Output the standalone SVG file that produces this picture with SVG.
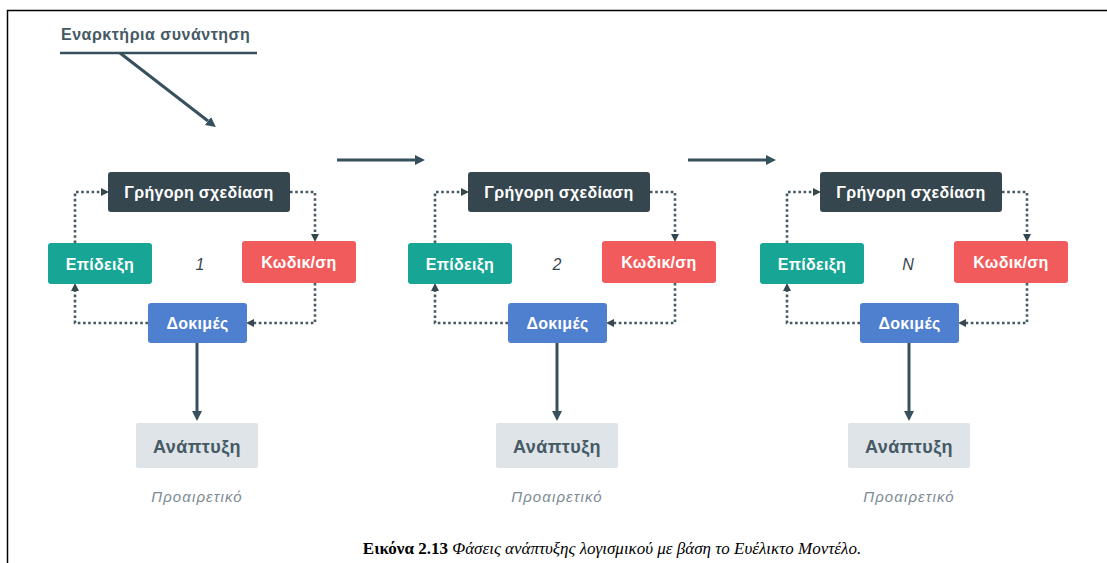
<svg xmlns="http://www.w3.org/2000/svg" width="1107" height="563" viewBox="0 0 1107 563">
<style>
.lbl{font-family:"Liberation Sans","DejaVu Sans",sans-serif;font-weight:bold;font-size:16px;fill:#fff;text-anchor:middle;letter-spacing:0.3px}
.dep{font-family:"Liberation Sans","DejaVu Sans",sans-serif;font-weight:bold;font-size:18px;fill:#455a64;text-anchor:middle;letter-spacing:0.4px}
.opt{font-family:"Liberation Sans","DejaVu Sans",sans-serif;font-style:italic;font-size:15px;fill:#7d8b94;text-anchor:middle;letter-spacing:1.1px}
.num{font-family:"Liberation Sans","DejaVu Sans",sans-serif;font-style:italic;font-size:16px;fill:#37474f;text-anchor:middle}
.dot{fill:none;stroke:#455a64;stroke-width:2.6;stroke-dasharray:2.6 2.6}
.sol{fill:none;stroke:#37505e;stroke-width:3}
.design{fill:#36464f}
.demo{fill:#17a595}
.code{fill:#f25b5b}
.test{fill:#4f80cf}
.deploy{fill:#dfe4e8}
</style>
<defs>
<marker id="ah" viewBox="0 0 10 10" refX="0" refY="5" markerWidth="8" markerHeight="12" markerUnits="userSpaceOnUse" orient="auto"><path d="M0,0 L10,5 L0,10 z" fill="#37474f"/></marker>
<marker id="ahb" viewBox="0 0 10 10" refX="0" refY="5" markerWidth="10" markerHeight="16" markerUnits="userSpaceOnUse" orient="auto"><path d="M0,0 L10,5 L0,10 z" fill="#37505e"/></marker>
</defs>
<rect width="1107" height="563" fill="#fff"/>
<path d="M7.5,563 V10.5 H1107" fill="none" stroke="#000" stroke-width="1.5"/>

<g id="start">
<text x="61" y="40" font-family="'Liberation Sans','DejaVu Sans',sans-serif" font-weight="bold" font-size="16" fill="#455a64" letter-spacing="0.5">Εναρκτήρια συνάντηση</text>
<line x1="60" y1="53" x2="257" y2="53" stroke="#37505e" stroke-width="2.5"/>
</g>

<g id="connectors">
<path class="sol" d="M120,53 L208,121" marker-end="url(#ahb)"/>
<path class="sol" d="M337,160 H415" marker-end="url(#ahb)"/>
<path class="sol" d="M688,160 H766" marker-end="url(#ahb)"/>
<g id="conn1">
<path class="dot" d="M290,192 H315 V234" marker-end="url(#ah)"/>
<path class="dot" d="M315,283 V323 H254" marker-end="url(#ah)"/>
<path class="dot" d="M148,323 H75 V291" marker-end="url(#ah)"/>
<path class="dot" d="M75,243 V192 H101" marker-end="url(#ah)"/>
<path class="sol" d="M197,343 V411" marker-end="url(#ahb)"/>
</g>
<g id="conn2" transform="translate(360,0)">
<path class="dot" d="M290,192 H315 V234" marker-end="url(#ah)"/>
<path class="dot" d="M315,283 V323 H254" marker-end="url(#ah)"/>
<path class="dot" d="M148,323 H75 V291" marker-end="url(#ah)"/>
<path class="dot" d="M75,243 V192 H101" marker-end="url(#ah)"/>
<path class="sol" d="M197,343 V411" marker-end="url(#ahb)"/>
</g>
<g id="conn3" transform="translate(712,0)">
<path class="dot" d="M290,192 H315 V234" marker-end="url(#ah)"/>
<path class="dot" d="M315,283 V323 H254" marker-end="url(#ah)"/>
<path class="dot" d="M148,323 H75 V291" marker-end="url(#ah)"/>
<path class="dot" d="M75,243 V192 H101" marker-end="url(#ah)"/>
<path class="sol" d="M197,343 V411" marker-end="url(#ahb)"/>
</g>
</g>

<g id="cycle1">
<g id="design1"><rect class="design" x="108" y="172" width="182" height="40" rx="3"/><text class="lbl" x="199" y="198">Γρήγορη σχεδίαση</text></g>
<g id="demo1"><rect class="demo" x="48" y="243" width="104" height="41" rx="3"/><text class="lbl" x="100" y="269.5">Επίδειξη</text></g>
<g id="code1"><rect class="code" x="242" y="241" width="114" height="42" rx="3"/><text class="lbl" x="299" y="268">Κωδικ/ση</text></g>
<g id="test1"><rect class="test" x="148" y="303" width="99" height="40" rx="3"/><text class="lbl" x="197.5" y="329">Δοκιμές</text></g>
<g id="deploy1"><rect class="deploy" x="136" y="423" width="122" height="45" rx="2"/><text class="dep" x="197" y="452.5">Ανάπτυξη</text></g>
<text id="opt1" class="opt" x="197" y="502">Προαιρετικό</text>
<text id="num1" class="num" x="200" y="270">1</text>
</g>

<g id="cycle2" transform="translate(360,0)">
<g id="design2"><rect class="design" x="108" y="172" width="182" height="40" rx="3"/><text class="lbl" x="199" y="198">Γρήγορη σχεδίαση</text></g>
<g id="demo2"><rect class="demo" x="48" y="243" width="104" height="41" rx="3"/><text class="lbl" x="100" y="269.5">Επίδειξη</text></g>
<g id="code2"><rect class="code" x="242" y="241" width="114" height="42" rx="3"/><text class="lbl" x="299" y="268">Κωδικ/ση</text></g>
<g id="test2"><rect class="test" x="148" y="303" width="99" height="40" rx="3"/><text class="lbl" x="197.5" y="329">Δοκιμές</text></g>
<g id="deploy2"><rect class="deploy" x="136" y="423" width="122" height="45" rx="2"/><text class="dep" x="197" y="452.5">Ανάπτυξη</text></g>
<text id="opt2" class="opt" x="197" y="502">Προαιρετικό</text>
<text id="num2" class="num" x="197" y="270">2</text>
</g>

<g id="cycle3" transform="translate(712,0)">
<g id="design3"><rect class="design" x="108" y="172" width="182" height="40" rx="3"/><text class="lbl" x="199" y="198">Γρήγορη σχεδίαση</text></g>
<g id="demo3"><rect class="demo" x="48" y="243" width="104" height="41" rx="3"/><text class="lbl" x="100" y="269.5">Επίδειξη</text></g>
<g id="code3"><rect class="code" x="242" y="241" width="114" height="42" rx="3"/><text class="lbl" x="299" y="268">Κωδικ/ση</text></g>
<g id="test3"><rect class="test" x="148" y="303" width="99" height="40" rx="3"/><text class="lbl" x="197.5" y="329">Δοκιμές</text></g>
<g id="deploy3"><rect class="deploy" x="136" y="423" width="122" height="45" rx="2"/><text class="dep" x="197" y="452.5">Ανάπτυξη</text></g>
<text id="opt3" class="opt" x="197" y="502">Προαιρετικό</text>
<text id="num3" class="num" x="196" y="270">N</text>
</g>

<text id="caption" x="612" y="554" text-anchor="middle" font-family="'Liberation Serif','DejaVu Serif',serif" font-size="17" fill="#000"><tspan font-weight="bold">Εικόνα 2.13</tspan> <tspan font-style="italic">Φάσεις ανάπτυξης λογισμικού με βάση το Ευέλικτο Μοντέλο.</tspan></text>
</svg>
